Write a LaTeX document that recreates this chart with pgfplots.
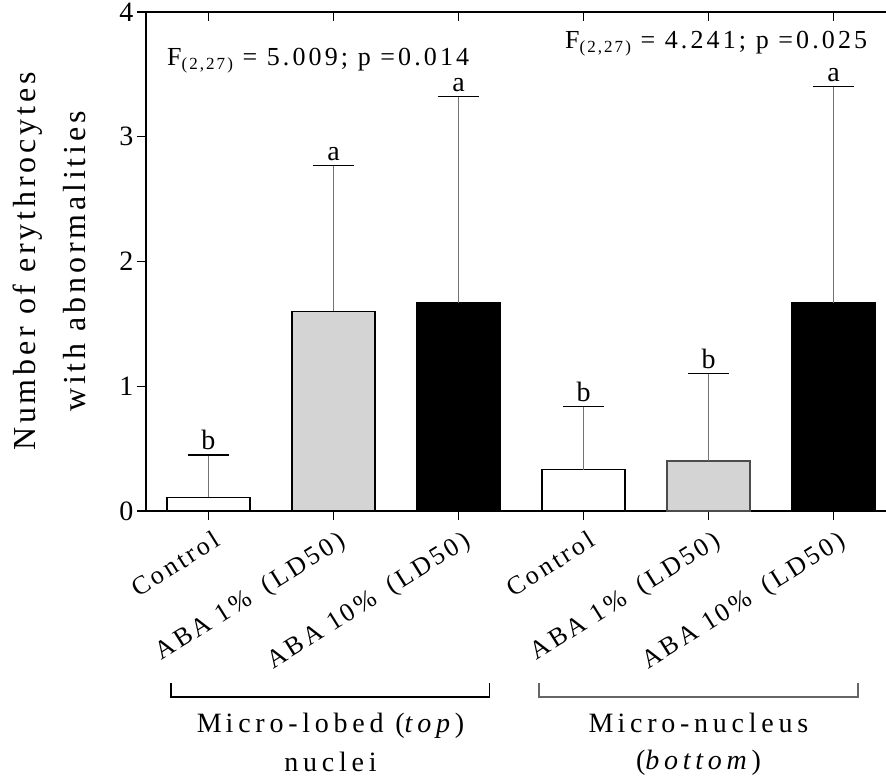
\documentclass[border=0pt]{standalone}
\usepackage{fontspec}
\setmainfont[LetterSpace=12]{Liberation Serif}
\usepackage{pgfplots}
\pgfplotsset{compat=1.18}
\pgfplotsset{
  mybar/.style={ybar, bar width=83pt, bar shift=0pt, line width=1.2pt,
    error bars/.cd, y dir=plus, y explicit,
    error bar style={line width=1.3pt, color=black!55},
    error mark options={rotate=90, line width=1.3pt, black, mark size=20.5pt}},
}
\newcommand{\wide}{\addfontfeature{LetterSpace=17}}
\begin{document}
\begin{tikzpicture}
\useasboundingbox (-146pt,-272pt) rectangle (740pt,511pt);
\begin{axis}[
  at={(0pt,0pt)}, anchor=south west,
  scale only axis, width=740pt, height=499pt,
  xmin=-0.5, xmax=5.42, ymin=0, ymax=4,
  axis x line*=bottom, axis y line*=left,
  axis line style={line width=1.3pt, black},
  tick align=outside, major tick length=9pt,
  tick style={line width=1.3pt, black},
  xtick={0,1,2,3,4,5},
  xticklabels={Control, ABA 1\%\hspace{6pt} (LD50), ABA 10\%\hspace{6pt} (LD50), Control, ABA 1\%\hspace{6pt} (LD50), ABA 10\%\hspace{6pt} (LD50)},
  xticklabel style={rotate=32, anchor=north east, inner sep=0pt, yshift=-10pt, xshift=-2pt, font=\fontsize{26}{26}\selectfont},
  ytick={0,1,2,3,4},
  yticklabel style={font=\fontsize{28}{28}\selectfont},
  /pgf/number format/assume math mode=true,
  ylabel={Number of erythrocytes\\with abnormalities},
  every axis y label/.style={at={(axis description cs:-0.13,0.5)}, rotate=90, anchor=center,
     align=center, font=\fontsize{32}{50}\selectfont},
  clip=false,
]
% Micro-lobed (top) nuclei
\addplot[fill=white, draw=black, mybar] coordinates {(0,0.11) +- (0,0.34)};
\addplot[fill=black!17, draw=black, mybar] coordinates {(1,1.60) +- (0,1.17)};
\addplot[fill=black, draw=black, mybar] coordinates {(2,1.67) +- (0,1.65)};
% Micro-nucleus (bottom)
\addplot[fill=white, draw=black, mybar] coordinates {(3,0.33) +- (0,0.51)};
\addplot[fill=black!17, draw=black!70, mybar] coordinates {(4,0.40) +- (0,0.70)};
\addplot[fill=black, draw=black, mybar] coordinates {(5,1.67) +- (0,1.73)};

\node[anchor=base, yshift=5pt, font=\fontsize{28}{28}\selectfont] at (axis cs:0,0.45) {b};
\node[anchor=base, yshift=5pt, font=\fontsize{28}{28}\selectfont] at (axis cs:1,2.77) {a};
\node[anchor=base, yshift=5pt, font=\fontsize{28}{28}\selectfont] at (axis cs:2,3.32) {a};
\node[anchor=base, yshift=5pt, font=\fontsize{28}{28}\selectfont] at (axis cs:3,0.84) {b};
\node[anchor=base, yshift=5pt, font=\fontsize{28}{28}\selectfont] at (axis cs:4,1.10) {b};
\node[anchor=base, yshift=5pt, font=\fontsize{28}{28}\selectfont] at (axis cs:5,3.40) {a};

\node[anchor=base west, inner sep=0pt, font=\fontsize{26}{26}\selectfont] at (axis cs:-0.332,3.575)
  {F\raisebox{-4pt}{\fontsize{17}{17}\selectfont (2,27)} = 5.009; p =0.014};
\node[anchor=base west, inner sep=0pt, font=\fontsize{26}{26}\selectfont] at (axis cs:2.852,3.711)
  {F\raisebox{-4pt}{\fontsize{17}{17}\selectfont (2,27)} = 4.241; p =0.025};

\draw[line width=1.3pt, black] (axis cs:-0.3,-1.379) -- (axis cs:-0.3,-1.491) -- (axis cs:2.25,-1.491) -- (axis cs:2.25,-1.379);
\draw[line width=1.3pt, black!60] (axis cs:2.644,-1.379) -- (axis cs:2.644,-1.491) -- (axis cs:5.196,-1.491) -- (axis cs:5.196,-1.379);

\node[anchor=base, inner sep=0pt, font=\fontsize{28}{28}\selectfont\wide] at (axis cs:0.976,-1.772) {M\hspace{4pt}icro-lobed (\textit{top})};
\node[anchor=base, inner sep=0pt, font=\fontsize{28}{28}\selectfont\wide] at (axis cs:0.976,-2.092) {nuclei};
\node[anchor=base, inner sep=0pt, font=\fontsize{28}{28}\selectfont\wide] at (axis cs:3.92,-1.772) {M\hspace{4pt}icro-nucleus};
\node[anchor=base, inner sep=0pt, font=\fontsize{28}{28}\selectfont\wide] at (axis cs:3.92,-2.076) {(\textit{bottom})};
\end{axis}
\begin{axis}[
  at={(0pt,0pt)}, anchor=south west,
  scale only axis, width=740pt, height=499pt,
  xmin=-0.5, xmax=5.42, ymin=0, ymax=4,
  axis x line*=top, axis y line=none,
  axis line style={line width=1.3pt, black},
  tick align=inside, major tick length=9pt,
  tick style={line width=1.3pt, black},
  xtick={0,1,2,3,4,5}, xticklabels={}, ytick=\empty,
]
\addplot[draw=none] coordinates {(0,0)};
\end{axis}
\end{tikzpicture}
\end{document}
